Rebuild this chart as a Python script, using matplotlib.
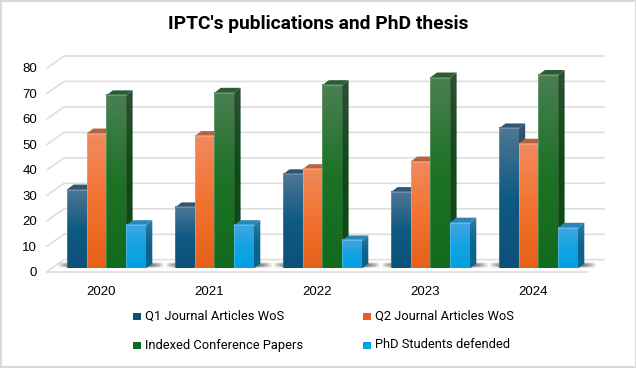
import numpy as np
import matplotlib
matplotlib.use("Agg")
from matplotlib import pyplot as plt
from matplotlib.colors import LinearSegmentedColormap
from matplotlib.patches import Polygon, Rectangle

years = ['2020', '2021', '2022', '2023', '2024']
series = ['Q1 Journal Articles WoS', 'Q2 Journal Articles WoS',
          'Indexed Conference Papers', 'PhD Students defended']
q1 = [31, 24, 37, 30, 55]
q2 = [53, 52, 39, 42, 49]
conf = [68, 69, 72, 75, 76]
phd = [17, 17, 11, 18, 16]
yticks = [0, 10, 20, 30, 40, 50, 60, 70, 80]

# colours: top of the fade, middle, bottom, side top, side bottom, lid
styles = [('#4f7695', '#0f5a82', '#0a5278', '#34566f', '#0b4263', '#2f5673'),
          ('#f08a5e', '#f37230', '#e5611a', '#c0562a', '#b54f16', '#b5623f'),
          ('#4a7f52', '#1d7226', '#126a1c', '#2c5032', '#0e4a16', '#2f5a36'),
          ('#41a6df', '#14a3e2', '#00a0e2', '#2f7ea6', '#08648c', '#2a86b4')]

W, H = 636, 368
fig = plt.figure(figsize=(W/100, H/100), dpi=100)
plt.rcParams['font.family'] = ['Roboto', 'DejaVu Sans']
# plane of the tick labels: 47..587 px across, 80 at y=68 and 0 at y=271.7
ax = fig.add_axes([47/W, 1-271.7/H, 540/W, 203.7/H])
ax.set_xlim(-0.5, 4.5)
ax.set_ylim(0, 80)
ax.patch.set_alpha(0)
for s in ax.spines.values():
    s.set_visible(False)

px = 1/108        # one pixel in x units
py = 80/203.7     # one pixel in y units
wall_dx, wall_dy = 17*px, 12*py
lift = 3.2*py
depth_x, depth_y = 6.5*px, 5*py
bar_w = 19.7*px
start = -34*px

# gridlines and floor
grid_c = '#dedede'
for v in yticks:
    ax.plot([-0.5, -0.5+wall_dx, 4.5+wall_dx], [v, v+wall_dy, v+wall_dy],
            color=grid_c, lw=1.2, clip_on=False, zorder=1)
ax.plot([-0.5, 4.5], [0, 0], color=grid_c, lw=1.2, clip_on=False, zorder=1)

ax.set_xticks(range(len(years)))
ax.set_xticklabels(years, fontsize=9.5, color='black', family='Liberation Sans')
ax.set_yticks(yticks)
ax.set_yticklabels([str(v) for v in yticks], fontsize=9.5, color='black', family='Liberation Sans')
ax.tick_params(length=0)
ax.tick_params(axis='x', pad=10.5)
ax.tick_params(axis='y', pad=7)

# soft shadow on the floor
xx, yy = np.meshgrid(np.linspace(-1, 1, 120), np.linspace(-1, 1, 24))
shadow = np.zeros((24, 120, 4))
shadow[..., 3] = np.clip(1-np.abs(xx)**4, 0, 1)*np.clip(1-np.abs(yy)**2, 0, 1)*0.8
for i in range(len(years)):
    ax.imshow(shadow, extent=[i+start-10*px, i+start+98*px, lift, lift+6*py],
              aspect='auto', zorder=2, interpolation='bilinear', clip_on=False)

grad = np.linspace(0, 1, 64).reshape(-1, 1)
all_vals = [q1, q2, conf, phd]
for j, vals in enumerate(all_vals):
    top_c, mid_c, bot_c, side_top, side_bot, lid_c = styles[j]
    front = LinearSegmentedColormap.from_list('f%d' % j, [bot_c, mid_c, top_c])
    side = LinearSegmentedColormap.from_list('s%d' % j, [side_bot, side_bot, side_top])
    for i, v in enumerate(vals):
        x0 = i + start + j*bar_w
        x1 = x0 + bar_w
        y0, y1 = lift, v + lift
        z = 3 + 0.1*j
        # side face, fade clipped to the slanted shape
        poly = Polygon([(x1, y0), (x1+depth_x, y0+depth_y),
                        (x1+depth_x, y1+depth_y), (x1, y1)],
                       fc='none', ec='none', zorder=z, transform=ax.transData)
        ax.add_patch(poly)
        im = ax.imshow(grad, cmap=side, origin='lower',
                       extent=[x1, x1+depth_x, y0, y1+depth_y],
                       aspect='auto', zorder=z)
        im.set_clip_path(poly)
        # lid
        ax.add_patch(Polygon([(x0, y1), (x1, y1), (x1+depth_x, y1+depth_y),
                              (x0+depth_x, y1+depth_y)],
                             fc=lid_c, ec='none', zorder=z, clip_on=False))
        # front face
        ax.imshow(grad, cmap=front, origin='lower', extent=[x0, x1, y0, y1],
                  aspect='auto', zorder=z+0.01, clip_on=False)
        ax.plot([x0, x0, x1], [y0, y1, y1], color='white', alpha=0.2, lw=0.7,
                zorder=z+0.02, clip_on=False)
ax.set_xlim(-0.5, 4.5)
ax.set_ylim(0, 80)

fig.text(318/W, 1-24/H, "IPTC's publications and PhD thesis", ha='center',
         va='center', fontsize=13.9, fontweight='bold', color='black')

# legend
leg_x = [133, 363]
leg_y = [316, 345]
for k, name in enumerate(series):
    lx = leg_x[k % 2]
    ly = leg_y[k//2]
    fig.add_artist(Rectangle((lx/W, 1-(ly+4)/H), 7.5/W, 7.5/H, fc=styles[k][2], ec='none',
                             transform=fig.transFigure))
    fig.text((lx+12)/W, 1-ly/H, name, ha='left', va='center', fontsize=9.3, color='black')

# chart frame
fig.add_artist(Rectangle((0.5/W, 1.5/H), (W-1)/W, (H-2)/H, fc='none', ec='#d9d9d9', lw=1.5,
                         transform=fig.transFigure))

fig.savefig('out.png', dpi=100)
